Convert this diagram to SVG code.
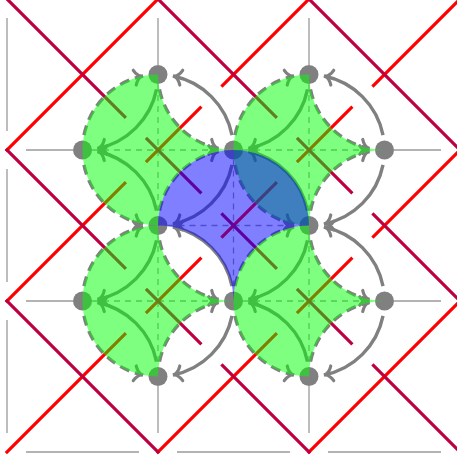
<svg xmlns="http://www.w3.org/2000/svg" width="457" height="460" viewBox="0 0 457 460">
<style>
.thin{stroke:#9a9a9a;stroke-width:1.3;fill:none}
.thind{stroke:#9a9a9a;stroke-width:1.3;fill:none;stroke-dasharray:6 5}
.arc{stroke:#808080;stroke-width:3.4;fill:none;marker-end:url(#ah)}
.dash{stroke-dasharray:10 6}
.red{stroke:#ff0000;stroke-width:3.2;fill:none}
.mar{stroke:#bf0040;stroke-width:3.2;fill:none}
.node{fill:#808080}
.green{fill:#00ff00;fill-opacity:0.5}
.blue{fill:#0000ff;fill-opacity:0.5}
</style>
<defs>
<marker id="ah" markerUnits="userSpaceOnUse" orient="auto" overflow="visible" markerWidth="1" markerHeight="1" refX="0" refY="0">
<path d="M-8.5,-7.5 C-7,-4 -3.5,-0.8 -1.5,0 C-3.5,0.8 -7,4 -8.5,7.5" fill="none" stroke="#808080" stroke-width="3.2" stroke-linecap="round" stroke-linejoin="round"/>
</marker>
</defs>
<g id="lattice">
<path class="thin" d="M7,18V131M7,169V282M7,320V433M26,452H139M177,452H290M328,452H441M26,150H73M26,301H73M394,150H441M394,301H441M158,18V65M309,18V65M158,386V433M309,386V433"/>
<path class="thind" d="M92,150H224M158,84V216M243,150H375M309,84V216M92,301H224M158,235V367M243,301H375M309,235V367M167.5,225.5H299.5M233.5,159.5V291.5"/>
</g>
<g id="connectors">
<g id="dashed-arcs">
<g id="da-22">
<path class="arc dash" d="M83.98,135.1A75.5,75.5 0 0 1 143.1,75.98"/>
<path class="arc dash" d="M83.98,164.9A75.5,75.5 0 0 0 143.1,224.02"/>
<path class="arc dash" d="M159.48,89.4A75.5,75.5 0 0 0 218.6,148.52"/>
<path class="arc dash" d="M159.48,210.6A75.5,75.5 0 0 1 218.6,151.48"/>
</g>
<g id="da-42" transform="translate(151,0)">
<path class="arc dash" d="M83.98,135.1A75.5,75.5 0 0 1 143.1,75.98"/>
<path class="arc dash" d="M83.98,164.9A75.5,75.5 0 0 0 143.1,224.02"/>
<path class="arc dash" d="M159.48,89.4A75.5,75.5 0 0 0 218.6,148.52"/>
<path class="arc dash" d="M159.48,210.6A75.5,75.5 0 0 1 218.6,151.48"/>
</g>
<g id="da-24" transform="translate(0,151)">
<path class="arc dash" d="M83.98,135.1A75.5,75.5 0 0 1 143.1,75.98"/>
<path class="arc dash" d="M83.98,164.9A75.5,75.5 0 0 0 143.1,224.02"/>
<path class="arc dash" d="M159.48,89.4A75.5,75.5 0 0 0 218.6,148.52"/>
<path class="arc dash" d="M159.48,210.6A75.5,75.5 0 0 1 218.6,151.48"/>
</g>
<g id="da-44" transform="translate(151,151)">
<path class="arc dash" d="M83.98,135.1A75.5,75.5 0 0 1 143.1,75.98"/>
<path class="arc dash" d="M83.98,164.9A75.5,75.5 0 0 0 143.1,224.02"/>
<path class="arc dash" d="M159.48,89.4A75.5,75.5 0 0 0 218.6,148.52"/>
<path class="arc dash" d="M159.48,210.6A75.5,75.5 0 0 1 218.6,151.48"/>
</g>
</g>
<g id="strands">
<path class="red" d="M159.13,-2.13L5.87,151.13M310.13,-2.13L221.39,86.61M201.39,106.61L145.89,162.11M125.89,182.11L5.87,302.13M461.13,-2.13L372.39,86.61M352.39,106.61L296.89,162.11M276.89,182.11L221.39,237.61M201.39,257.61L145.89,313.11M125.89,333.11L5.87,453.13M461.13,148.87L372.39,237.61M352.39,257.61L296.89,313.11M276.89,333.11L156.87,453.13M461.13,299.87L307.87,453.13"/>
<path class="mar" d="M5.87,299.87L159.13,453.13M5.87,148.87L125.89,268.89M145.89,288.89L201.39,344.39M221.39,364.39L310.13,453.13M5.87,-2.13L125.89,117.89M145.89,137.89L201.39,193.39M221.39,213.39L276.89,268.89M296.89,288.89L352.39,344.39M372.39,364.39L461.13,453.13M156.87,-2.13L276.89,117.89M296.89,137.89L352.39,193.39M372.39,213.39L461.13,302.13M307.87,-2.13L461.13,151.13"/>
</g>
<g id="solid-arcs">
<g id="sa-22">
<path class="arc" d="M232.02,135.1A75.5,75.5 0 0 0 172.9,75.98"/>
<path class="arc" d="M232.02,164.9A75.5,75.5 0 0 1 172.9,224.02"/>
<path class="arc" d="M156.52,89.4A75.5,75.5 0 0 1 97.4,148.52"/>
<path class="arc" d="M156.52,210.6A75.5,75.5 0 0 0 97.4,151.48"/>
</g>
<g id="sa-42" transform="translate(151,0)">
<path class="arc" d="M232.02,135.1A75.5,75.5 0 0 0 172.9,75.98"/>
<path class="arc" d="M232.02,164.9A75.5,75.5 0 0 1 172.9,224.02"/>
<path class="arc" d="M156.52,89.4A75.5,75.5 0 0 1 97.4,148.52"/>
<path class="arc" d="M156.52,210.6A75.5,75.5 0 0 0 97.4,151.48"/>
</g>
<g id="sa-24" transform="translate(0,151)">
<path class="arc" d="M232.02,135.1A75.5,75.5 0 0 0 172.9,75.98"/>
<path class="arc" d="M232.02,164.9A75.5,75.5 0 0 1 172.9,224.02"/>
<path class="arc" d="M156.52,89.4A75.5,75.5 0 0 1 97.4,148.52"/>
<path class="arc" d="M156.52,210.6A75.5,75.5 0 0 0 97.4,151.48"/>
</g>
<g id="sa-44" transform="translate(151,151)">
<path class="arc" d="M232.02,135.1A75.5,75.5 0 0 0 172.9,75.98"/>
<path class="arc" d="M232.02,164.9A75.5,75.5 0 0 1 172.9,224.02"/>
<path class="arc" d="M156.52,89.4A75.5,75.5 0 0 1 97.4,148.52"/>
<path class="arc" d="M156.52,210.6A75.5,75.5 0 0 0 97.4,151.48"/>
</g>
</g>
</g>
<g id="n-2-1"><circle class="node" cx="158" cy="74.5" r="9.5"/></g>
<g id="n-4-1"><circle class="node" cx="309" cy="74.5" r="9.5"/></g>
<g id="n-1-2"><circle class="node" cx="82.5" cy="150" r="9.5"/></g>
<g id="n-3-2"><circle class="node" cx="233.5" cy="150" r="9.5"/></g>
<g id="n-5-2"><circle class="node" cx="384.5" cy="150" r="9.5"/></g>
<g id="n-2-3"><circle class="node" cx="158" cy="225.5" r="9.5"/></g>
<g id="n-4-3"><circle class="node" cx="309" cy="225.5" r="9.5"/></g>
<g id="n-1-4"><circle class="node" cx="82.5" cy="301" r="9.5"/></g>
<g id="n-3-4"><circle class="node" cx="233.5" cy="301" r="9.5"/></g>
<g id="n-5-4"><circle class="node" cx="384.5" cy="301" r="9.5"/></g>
<g id="n-2-5"><circle class="node" cx="158" cy="376.5" r="9.5"/></g>
<g id="n-4-5"><circle class="node" cx="309" cy="376.5" r="9.5"/></g>
<g id="regions">
<path class="green" d="M158,74.5A75.5,75.5 0 0 0 82.5,150A75.5,75.5 0 0 0 158,225.5A75.5,75.5 0 0 1 233.5,150A75.5,75.5 0 0 1 158,74.5Z"/>
<path class="green" d="M309,74.5A75.5,75.5 0 0 0 233.5,150A75.5,75.5 0 0 0 309,225.5A75.5,75.5 0 0 1 384.5,150A75.5,75.5 0 0 1 309,74.5Z"/>
<path class="green" d="M158,225.5A75.5,75.5 0 0 0 82.5,301A75.5,75.5 0 0 0 158,376.5A75.5,75.5 0 0 1 233.5,301A75.5,75.5 0 0 1 158,225.5Z"/>
<path class="green" d="M309,225.5A75.5,75.5 0 0 0 233.5,301A75.5,75.5 0 0 0 309,376.5A75.5,75.5 0 0 1 384.5,301A75.5,75.5 0 0 1 309,225.5Z"/>
<path class="blue" d="M158,225.5A75.5,75.5 0 0 1 233.5,150A75.5,75.5 0 0 1 309,225.5A75.5,75.5 0 0 0 233.5,301A75.5,75.5 0 0 0 158,225.5Z"/>
</g>
</svg>
